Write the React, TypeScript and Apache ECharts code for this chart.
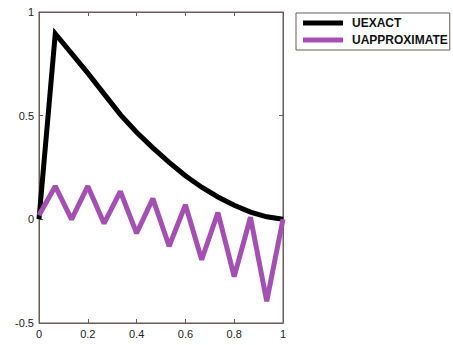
import React, { useEffect, useRef } from "react";
import * as echarts from "echarts";

const xNodes = [0, 1 / 15, 2 / 15, 3 / 15, 4 / 15, 5 / 15, 6 / 15, 7 / 15, 8 / 15, 9 / 15, 10 / 15, 11 / 15, 12 / 15, 13 / 15, 14 / 15, 1];
const uExact = [0, 0.895, 0.8, 0.705, 0.605, 0.505, 0.42, 0.345, 0.275, 0.21, 0.155, 0.108, 0.068, 0.035, 0.012, 0];
const uApprox = [0.02, 0.16, 0.0, 0.16, -0.02, 0.135, -0.067, 0.1, -0.13, 0.07, -0.195, 0.033, -0.276, 0.01, -0.395, 0.0];
const yTicks = [-0.5, 0, 0.5, 1];

export default function App() {
  const ref = useRef<HTMLDivElement>(null);
  useEffect(() => {
    const chart = echarts.init(ref.current!, null, { renderer: "svg" });
    const axisColor = "#6b5a55";
    const labelStyle = { color: "#222", fontSize: 11, fontFamily: "Liberation Sans, Arial, sans-serif" };
    chart.setOption({
      animation: false,
      backgroundColor: "#fff",
      grid: { left: 39, right: 170, top: 12, bottom: 22, show: true, borderColor: axisColor, borderWidth: 1, backgroundColor: "#fff" },
      legend: {
        left: 296,
        top: 13,
        orient: "vertical",
        itemWidth: 40,
        itemHeight: 5,
        itemGap: 3,
        padding: [3, 2, 3, 7],
        borderColor: "#6b5a55",
        borderWidth: 1,
        icon: "rect",
        textStyle: { color: "#111", fontSize: 12, lineHeight: 14, fontWeight: "bold", fontFamily: "Liberation Sans, Arial, sans-serif", padding: [0, 0, 0, 4] },
        data: ["UEXACT", "UAPPROXIMATE"],
      },
      xAxis: [
        {
          type: "value", min: 0, max: 1, interval: 0.2,
          axisLine: { show: true, onZero: false, lineStyle: { color: axisColor } },
          axisTick: { show: true, inside: true, length: 4, lineStyle: { color: axisColor } },
          axisLabel: { ...labelStyle, margin: 5, formatter: (v: number) => String(Math.round(v * 10) / 10) },
          splitLine: { show: false },
        },
        {
          type: "value", min: 0, max: 1, interval: 0.2, position: "top",
          axisLine: { show: true, onZero: false, lineStyle: { color: axisColor } },
          axisTick: { show: true, inside: true, length: 4, lineStyle: { color: axisColor } },
          axisLabel: { show: false },
          splitLine: { show: false },
        },
      ],
      yAxis: [
        {
          type: "value", min: -0.5, max: 1, interval: 0.5,
          axisLine: { show: true, onZero: false, lineStyle: { color: axisColor } },
          axisTick: { show: true, inside: true, length: 4, lineStyle: { color: axisColor } },
          axisLabel: { ...labelStyle, margin: 5, formatter: (v: number) => (yTicks.includes(v) ? String(v) : "") },
          splitLine: { show: false },
        },
        {
          type: "value", min: -0.5, max: 1, interval: 0.5, position: "right",
          axisLine: { show: true, onZero: false, lineStyle: { color: axisColor } },
          axisTick: { show: true, inside: true, length: 4, lineStyle: { color: axisColor } },
          axisLabel: { show: false },
          splitLine: { show: false },
        },
      ],
      series: [
        {
          name: "UEXACT", type: "line", showSymbol: false, symbol: "none",
          lineStyle: { color: "#000", width: 5, join: "miter" }, itemStyle: { color: "#000" },
          data: xNodes.map((x, i) => [x, uExact[i]]),
        },
        {
          name: "UAPPROXIMATE", type: "line", showSymbol: false, symbol: "none",
          lineStyle: { color: "#a450b3", width: 5 }, itemStyle: { color: "#a450b3" },
          data: xNodes.map((x, i) => [x, uApprox[i]]),
        },
      ],
    });
    return () => chart.dispose();
  }, []);
  return <div ref={ref} style={{ width: 453, height: 345, position: "absolute", left: 0, top: 0 }} />;
}
